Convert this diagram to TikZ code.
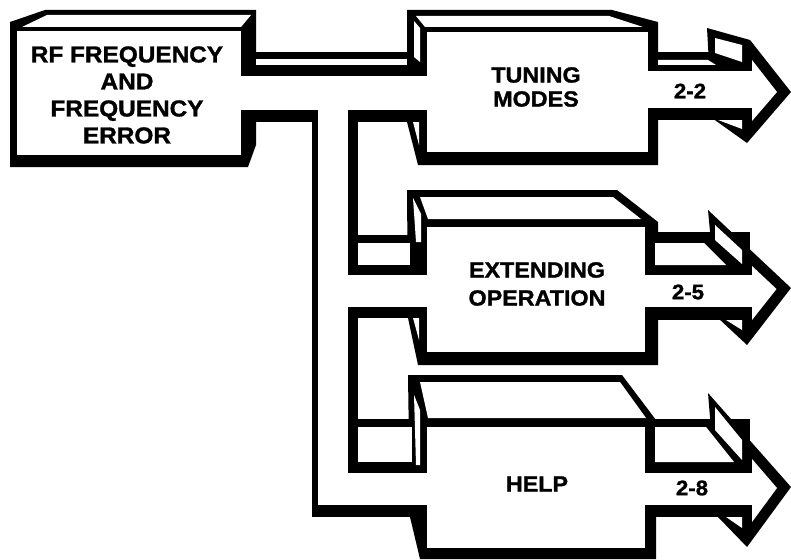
\documentclass[tikz,border=0pt]{standalone}
\usepackage{fontspec}
\newfontfamily\lab{Liberation Sans}[FakeStretch=1.06, BoldFeatures={FakeBold=1.3}]
\tikzset{
  ink/.style={fill=black},
  paper/.style={fill=white},
  lbl/.style={align=center, inner sep=0pt},
}
\begin{document}
\begin{tikzpicture}[x=1pt,y=-1pt]
\useasboundingbox (0,0) rectangle (791,559);
\fill[paper] (0,0) rectangle (791,559);
% ---------- black silhouettes ----------
% source box
\fill[ink] (10,22) -- (45,10) -- (256,10) -- (256,145) -- (248,167) -- (10,167) -- cycle;
% main pipe, vertical pipe, stubs
\fill[ink] (241,52) rectangle (420,122);
\fill[ink] (312,110) rectangle (358,517);
\fill[ink] (348,235) rectangle (420,318);
\fill[ink] (348,419) rectangle (420,517);
% tuning box
\fill[ink] (407,10) -- (612,10) -- (658,22) -- (658,165) -- (418,165) -- (407,122) -- cycle;
\fill[ink] (648,52) rectangle (750,120);
\fill[ink] (707,28) -- (750,40) -- (791,92) -- (747,143) -- (712,118) -- cycle;
% extending box
\fill[ink] (407,190) -- (617,190) -- (658,222) -- (658,365) -- (418,365) -- (408,318) -- cycle;
\fill[ink] (645,232) rectangle (750,320);
\fill[ink] (708,210) -- (791,288) -- (747,345) -- (718,318) -- cycle;
% help box
\fill[ink] (408,375) -- (622,375) -- (656,420) -- (656,559) -- (420,559) -- (410,517) -- cycle;
\fill[ink] (645,419) rectangle (750,517);
\fill[ink] (708,393) -- (791,487) -- (747,547) -- (718,517) -- cycle;
% ---------- white faces ----------
% source
\fill[paper] (22,27) -- (47,15) -- (251,15) -- (241,27) -- cycle;
\fill[paper] (17,31) rectangle (241,155);
% main pipe
\fill[paper] (256,59) rectangle (407,65);
\fill[paper] (241,76) rectangle (430,110);
\fill[paper] (318,110) rectangle (348,505);
% tuning
\fill[paper] (416,16) -- (609,16) -- (643,27) -- (425,27) -- cycle;
\fill[paper] (414,21) -- (420,28) -- (420,62) -- (414,57) -- cycle;
\fill[paper] (413,122) -- (419,122) -- (419,145) -- cycle;
\fill[paper] (427,32) rectangle (648,152);
\fill[paper] (658,60) -- (708,60) -- (716,65) -- (658,65) -- cycle;
\fill[paper] (648,71) rectangle (760,108);
\fill[paper] (715,38) -- (742,45) -- (742,62) -- (715,53) -- cycle;
\fill[paper] (752,60) -- (777,92) -- (752,121) -- cycle;
\fill[paper] (718,120) -- (742,120) -- (742,129) -- cycle;
% extending
\fill[paper] (420,197) -- (613,197) -- (641,219) -- (428,219) -- cycle;
\fill[paper] (413,198) -- (421,214) -- (421,242) -- (416,242) -- cycle;
\fill[paper] (358,243) rectangle (410,265);
\fill[paper] (318,275) rectangle (430,307);
\fill[paper] (413,318) -- (419,318) -- (419,340) -- cycle;
\fill[paper] (427,227) rectangle (645,352);
\fill[paper] (655,243) -- (704,243) -- (726,265) -- (655,265) -- cycle;
\fill[paper] (715,225) -- (742,250) -- (742,264) -- (715,240) -- cycle;
\fill[paper] (645,275) rectangle (760,307);
\fill[paper] (752,266) -- (776.5,289) -- (752,320) -- cycle;
\fill[paper] (726,320) -- (742,320) -- (742,330) -- cycle;
% help
\fill[paper] (420,382) -- (620,382) -- (646,418) -- (428,418) -- cycle;
\fill[paper] (414,395) -- (420,410) -- (420,465) -- (416,465) -- cycle;
\fill[paper] (358,427) rectangle (412,462);
\fill[paper] (318,473) rectangle (430,505);
\fill[paper] (427,427) rectangle (645,548);
\fill[paper] (655,427) -- (706,427) -- (734,462) -- (655,462) -- cycle;
\fill[paper] (715,407) -- (742,440) -- (742,460) -- (715,430) -- cycle;
\fill[paper] (645,473) rectangle (760,505);
\fill[paper] (752,459) -- (777,488) -- (752,522) -- cycle;
\fill[paper] (726,517) -- (742,517) -- (742,528) -- cycle;
% ---------- labels ----------
\node[lbl, font=\lab\bfseries\fontsize{23}{27}\selectfont] (src) at (127,95) {RF FREQUENCY\\AND\\FREQUENCY\\ERROR};
\node[lbl, font=\lab\bfseries\fontsize{22}{24}\selectfont] (tun) at (536,87) {TUNING\\MODES};
\node[lbl, font=\lab\bfseries\fontsize{22}{28}\selectfont] (ext) at (537,284) {EXTENDING\\OPERATION};
\node[lbl, font=\lab\bfseries\fontsize{22}{24}\selectfont] (hlp) at (537,484) {HELP};
\node[lbl, font=\lab\bfseries\fontsize{21}{24}\selectfont] (n22) at (690,91) {2-2};
\node[lbl, font=\lab\bfseries\fontsize{21}{24}\selectfont] (n25) at (688,292) {2-5};
\node[lbl, font=\lab\bfseries\fontsize{21}{24}\selectfont] (n28) at (692,488) {2-8};
\end{tikzpicture}
\end{document}
